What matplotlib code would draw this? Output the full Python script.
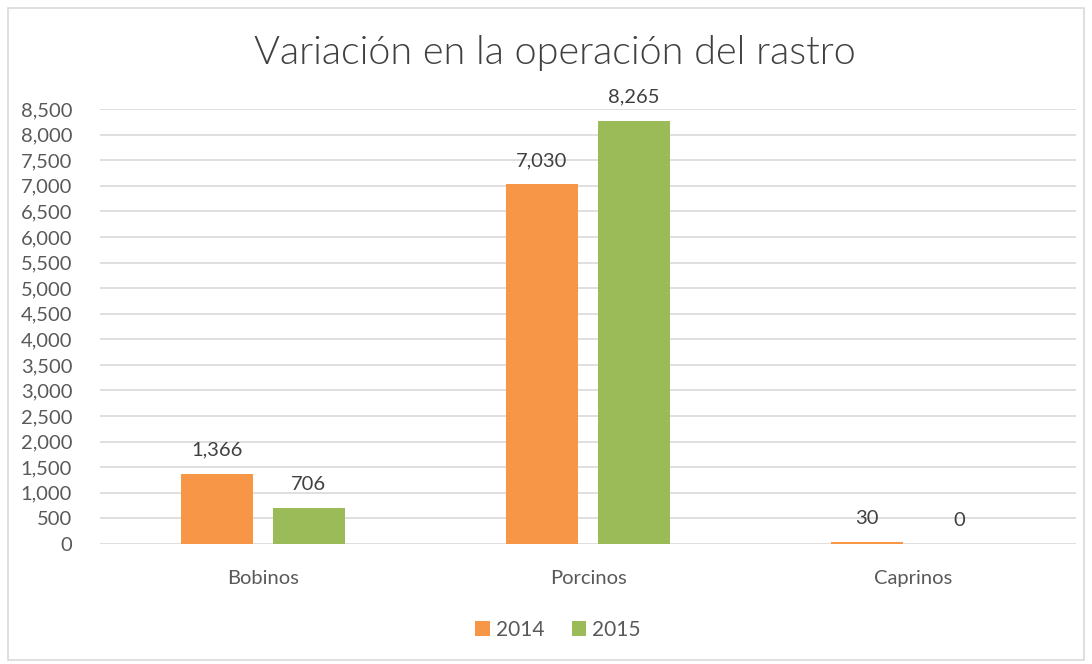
import matplotlib.pyplot as plt
import numpy as np
from matplotlib.patches import Rectangle

# Datos del rastro
categorias = ['Bobinos', 'Porcinos', 'Caprinos']
valores_2014 = [1366, 7030, 30]
valores_2015 = [706, 8265, 0]
anios = ['2014', '2015']

color_2014 = '#F79646'
color_2015 = '#9BBB59'
gris_texto = '#595959'

plt.rcParams['font.family'] = ['Lato', 'DejaVu Sans']

fig = plt.figure(figsize=(10.92, 6.64), dpi=100)
ax = fig.add_axes([100 / 1092, 1 - 544 / 664, 976 / 1092, 435 / 664])

# marco del grafico
fig.patches.append(Rectangle((8 / 1092, 4 / 664), 1076 / 1092, 652 / 664,
                             transform=fig.transFigure, fill=False,
                             edgecolor='#D9D9D9', linewidth=1.2))

x = np.arange(len(categorias))
ancho = 0.222
b1 = ax.bar(x - 0.1415, valores_2014, ancho, color=color_2014, label=anios[0], zorder=3)
b2 = ax.bar(x + 0.1415, valores_2015, ancho, color=color_2015, label=anios[1], zorder=3)

for barras in (b1, b2):
    for b in barras:
        v = b.get_height()
        ax.text(b.get_x() + b.get_width() / 2, v + 300, f'{v:,.0f}',
                ha='center', va='bottom', fontsize=14.5, color='#404040')

ax.set_xlim(-0.5, 2.5)
ax.set_ylim(0, 8500)
ax.set_yticks(np.arange(0, 8501, 500))
ax.set_yticklabels([f'{v:,}' for v in range(0, 8501, 500)])
ax.set_xticks(x)
ax.set_xticklabels(categorias)
ax.tick_params(axis='both', length=0, labelsize=14.5, labelcolor=gris_texto)
ax.tick_params(axis='y', pad=20)
ax.tick_params(axis='x', pad=19)
ax.grid(axis='y', color='#D9D9D9', linewidth=1.2, zorder=0)
for s in ax.spines.values():
    s.set_visible(False)

fig.text(0.508, 1 - 53 / 664, 'Variación en la operación del rastro',
         ha='center', va='center', fontsize=28.5, fontweight=300, color='#404040')

fig.legend(handles=[b1, b2], labels=anios, loc='center', bbox_to_anchor=(0.511, 1 - 630 / 664),
           ncol=2, frameon=False, fontsize=15, handlelength=0.7, handleheight=0.7,
           handletextpad=0.3, columnspacing=1.3, labelcolor=gris_texto)

fig.savefig('out.png', dpi=100)
